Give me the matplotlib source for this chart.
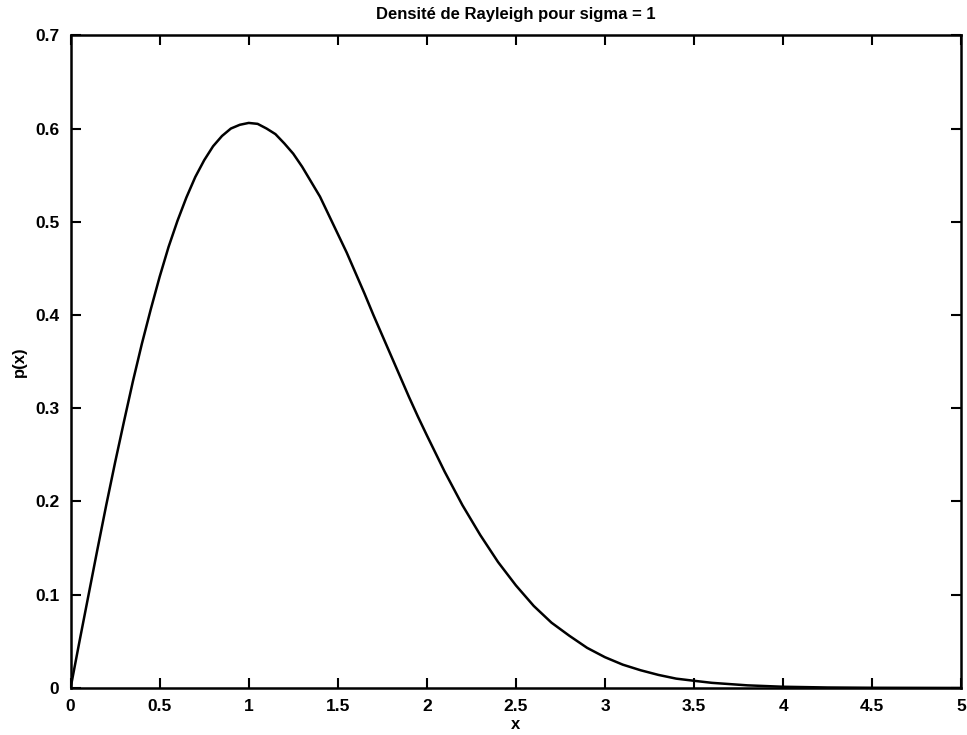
import matplotlib
matplotlib.use('Agg')
import matplotlib.pyplot as plt

plt.rcParams['font.family'] = ['Liberation Sans', 'DejaVu Sans']
plt.rcParams['font.weight'] = 'bold'

# values
x = [0.0, 0.05, 0.1, 0.15, 0.2, 0.25, 0.3, 0.35, 0.4, 0.45, 0.5,
     0.55, 0.6, 0.65, 0.7, 0.75, 0.8, 0.85, 0.9, 0.95, 1.0,
     1.05, 1.1, 1.15, 1.2, 1.25, 1.3, 1.35, 1.4, 1.45, 1.5,
     1.55, 1.6, 1.65, 1.7, 1.75, 1.8, 1.85, 1.9, 1.95, 2.0,
     2.1, 2.2, 2.3, 2.4, 2.5, 2.6, 2.7, 2.8, 2.9, 3.0,
     3.1, 3.2, 3.3, 3.4, 3.5, 3.6, 3.8, 4.0, 4.25, 4.5, 5.0]
p = [0.0, 0.050, 0.099, 0.148, 0.196, 0.242, 0.286, 0.329, 0.369, 0.406, 0.441,
     0.473, 0.501, 0.526, 0.548, 0.566, 0.581, 0.592, 0.600, 0.604, 0.606,
     0.605, 0.600, 0.594, 0.584, 0.573, 0.559, 0.543, 0.527, 0.507, 0.487,
     0.467, 0.445, 0.423, 0.400, 0.378, 0.356, 0.334, 0.312, 0.291, 0.271,
     0.232, 0.196, 0.164, 0.135, 0.110, 0.088, 0.070, 0.056, 0.043, 0.033,
     0.025, 0.019, 0.014, 0.010, 0.0077, 0.0055, 0.0028, 0.0013, 0.0005, 0.0002, 0.0]

xticks = [0, 0.5, 1, 1.5, 2, 2.5, 3, 3.5, 4, 4.5, 5]
xticklabels = ['0', '0.5', '1', '1.5', '2', '2.5', '3', '3.5', '4', '4.5', '5']
yticks = [0, 0.1, 0.2, 0.3, 0.4, 0.5, 0.6, 0.7]
yticklabels = ['0', '0.1', '0.2', '0.3', '0.4', '0.5', '0.6', '0.7']

fig = plt.figure(figsize=(9.67, 7.35), dpi=100)
ax = fig.add_axes([0.073, 0.064, 0.921, 0.888])
ax.plot(x, p, color='black', linewidth=1.8)
ax.set_xlim(0, 5)
ax.set_ylim(0, 0.7)
ax.set_xticks(xticks)
ax.set_xticklabels(xticklabels)
ax.set_yticks(yticks)
ax.set_yticklabels(yticklabels)
ax.tick_params(direction='in', top=True, right=True, length=7, width=1.5, labelsize=12.5)
ax.tick_params(axis='x', pad=8)
ax.tick_params(axis='y', pad=8)
for s in ax.spines.values():
    s.set_linewidth(1.8)
ax.set_title('Densité de Rayleigh pour sigma = 1', fontsize=12, fontweight='bold', pad=12)
ax.set_xlabel('x', fontsize=12, fontweight='bold', labelpad=2)
ax.set_ylabel('p(x)', fontsize=12, fontweight='bold', labelpad=6)

plt.savefig('out.png', dpi=100)
plt.close()
